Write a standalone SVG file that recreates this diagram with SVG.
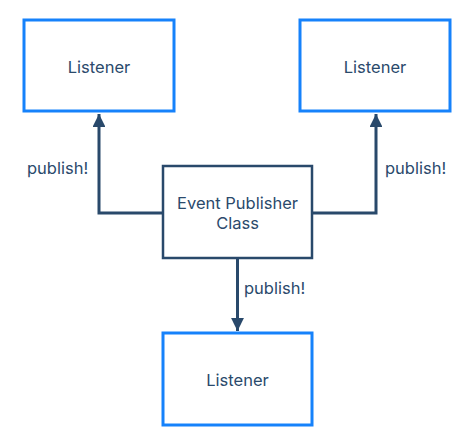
<svg xmlns="http://www.w3.org/2000/svg" width="471" height="443" viewBox="0 0 471 443">
<style>
.listener{fill:#fff;stroke:#1682fb;stroke-width:3}
.cls{fill:#fff;stroke:#29496b;stroke-width:2.5}
text{font-family:Inter,"Liberation Sans",sans-serif;font-size:16.5px;fill:#2b4a6c}
.lbl{text-anchor:middle}
.edge{fill:none;stroke:#29496b;stroke-width:3}
</style>
<defs>
<marker id="arr" viewBox="0 0 10 10" refX="10" refY="5" markerWidth="4.6" markerHeight="4.3" markerUnits="strokeWidth" orient="auto">
<path d="M0,0 L10,5 L0,10 Z" fill="#29496b"/>
</marker>
</defs>
<rect width="471" height="443" fill="#fff"/>
<g id="connectors">
<path class="edge" d="M163,213 H99 V114" marker-end="url(#arr)"/>
<path class="edge" d="M312,213 H376 V114" marker-end="url(#arr)"/>
<path class="edge" d="M237.5,258 V331" marker-end="url(#arr)"/>
<text x="27" y="174">publish!</text>
<text x="385" y="174">publish!</text>
<text x="244" y="294">publish!</text>
</g>
<g id="listener-left">
<rect class="listener" x="24" y="20" width="150" height="91"/>
<text class="lbl" x="99" y="73">Listener</text>
</g>
<g id="listener-right">
<rect class="listener" x="300" y="20" width="150" height="91"/>
<text class="lbl" x="375" y="73">Listener</text>
</g>
<g id="publisher">
<rect class="cls" x="163" y="166" width="149" height="92"/>
<text class="lbl" x="237.5" y="209">Event Publisher</text>
<text class="lbl" x="237.5" y="229">Class</text>
</g>
<g id="listener-bottom">
<rect class="listener" x="163" y="333" width="149" height="92"/>
<text class="lbl" x="237.5" y="386">Listener</text>
</g>
</svg>
